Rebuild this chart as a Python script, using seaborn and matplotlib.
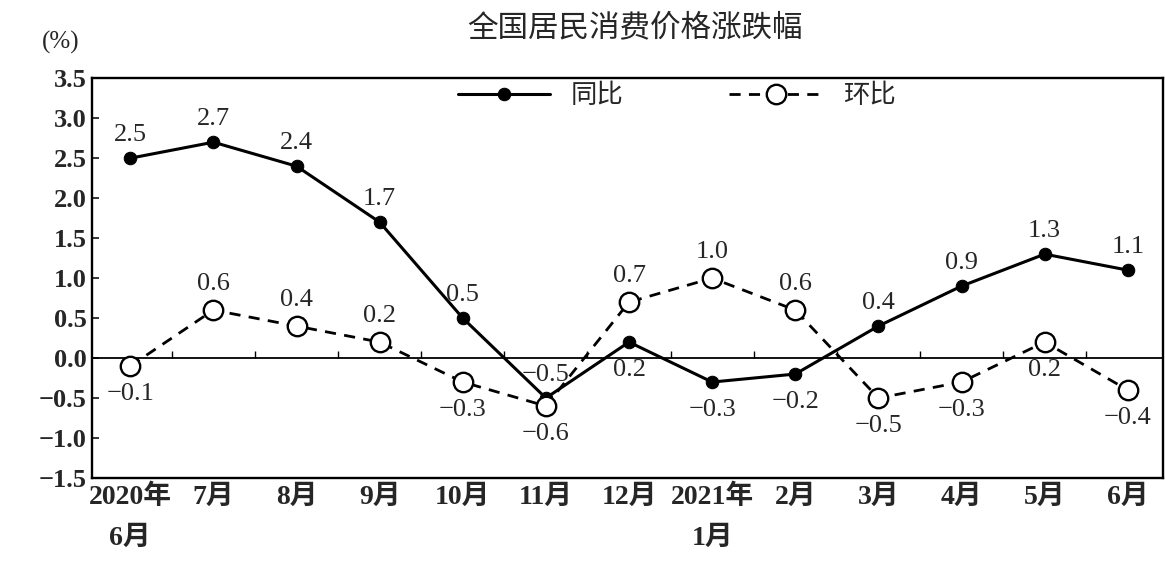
import numpy as np
import pandas as pd
import matplotlib
matplotlib.use("Agg")
import matplotlib.pyplot as plt
import seaborn as sns

months = ["2020年\n6月", "7月", "8月", "9月", "10月", "11月", "12月",
          "2021年\n1月", "2月", "3月", "4月", "5月", "6月"]
yoy = [2.5, 2.7, 2.4, 1.7, 0.5, -0.5, 0.2, -0.3, -0.2, 0.4, 0.9, 1.3, 1.1]
mom = [-0.1, 0.6, 0.4, 0.2, -0.3, -0.6, 0.7, 1.0, 0.6, -0.5, -0.3, 0.2, -0.4]
yoy_label_above = [True, True, True, True, True, True, False, False, False, True, True, True, True]
mom_label_above = [False, True, True, True, False, False, True, True, True, False, False, False, False]

sns.set_style("white")
plt.rcParams['font.family'] = ['Liberation Serif', 'Noto Sans CJK SC', 'DejaVu Sans']
plt.rcParams['axes.unicode_minus'] = True

fig = plt.figure(figsize=(11.65, 5.67), dpi=100)
ax = fig.add_axes([0.079, 0.157, 0.919, 0.705])

x = np.arange(len(months))
df = pd.DataFrame({"x": x, "同比": yoy, "环比": mom})

sns.lineplot(data=df, x="x", y="同比", ax=ax, color="black", lw=2.2,
             marker="o", markersize=9, markerfacecolor="black",
             markeredgecolor="black", label="同比")
sns.lineplot(data=df, x="x", y="环比", ax=ax, color="black", lw=2,
             linestyle=(0, (4, 3)), marker="o", markersize=14,
             markerfacecolor="white", markeredgecolor="black",
             markeredgewidth=1.7, label="环比")

ax.axhline(0, color="black", lw=1.3, zorder=1)
ax.plot(x[:-1] + 0.5, np.zeros(len(x) - 1), linestyle="none", marker=2,
        markersize=5, color="black", zorder=1)

def fmt(v):
    s = f"{abs(v):.1f}"
    return ("−" + s) if v < 0 else s

for xi, v, up in zip(x, yoy, yoy_label_above):
    ax.annotate(fmt(v), (xi, v), xytext=(0, 9 if up else -12),
                textcoords="offset points", ha="center",
                va="bottom" if up else "top", fontsize=19)
for xi, v, up in zip(x, mom, mom_label_above):
    ax.annotate(fmt(v), (xi, v), xytext=(0, 11 if up else -12),
                textcoords="offset points", ha="center",
                va="bottom" if up else "top", fontsize=19)

ax.set_xlim(-0.46, 12.42)
ax.set_ylim(-1.5, 3.5)
ax.set_yticks(np.arange(-1.5, 3.51, 0.5))
ax.set_yticklabels([fmt(t) for t in np.arange(-1.5, 3.51, 0.5)],
                   fontsize=19, fontweight="bold")
ax.set_xticks(x)
ax.set_xticklabels(months, fontsize=20, fontweight="bold", linespacing=1.8)
ax.tick_params(axis="y", direction="in", length=5, width=1.3, pad=4, left=True)
ax.tick_params(axis="x", length=0, pad=5)
ax.set_xlabel("")
ax.set_ylabel("")
for s in ax.spines.values():
    s.set_visible(True)
    s.set_color("black")
    s.set_linewidth(1.7)

leg = ax.legend(loc="center", bbox_to_anchor=(0.546, 0.955), ncol=2,
                frameon=False, fontsize=19, handlelength=3.5,
                columnspacing=4, borderaxespad=0)

fig.text(0.545, 0.95, "全国居民消费价格涨跌幅", ha="center", va="center", fontsize=22)
fig.text(0.052, 0.925, "(%)", ha="center", va="center", fontsize=18)

fig.savefig("out.png", dpi=100)
